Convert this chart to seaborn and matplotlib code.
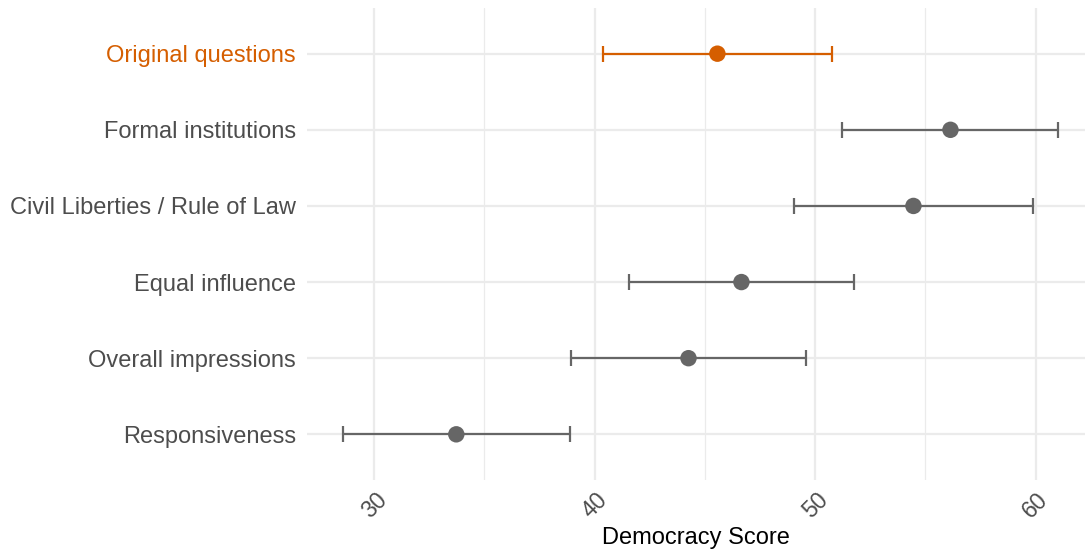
import matplotlib
matplotlib.use("Agg")
import matplotlib.pyplot as plt
import seaborn as sns
import pandas as pd

categories = ["Original questions", "Formal institutions", "Civil Liberties / Rule of Law",
              "Equal influence", "Overall impressions", "Responsiveness"]
estimate = [45.57, 56.14, 54.46, 46.66, 44.26, 33.73]
lower = [40.40, 51.24, 49.06, 41.55, 38.93, 28.57]
upper = [50.77, 61.00, 59.86, 51.78, 49.59, 38.90]
group = ["orig", "other", "other", "other", "other", "other"]
x_ticks = [30, 40, 50, 60]

ORANGE = "#D55E00"
GREY = "#666666"

df = pd.DataFrame({"cat": categories, "est": estimate, "lo": lower, "hi": upper, "grp": group})
df["pos"] = range(len(df))

sns.set_theme(style="white")
plt.rcParams["font.family"] = ["Liberation Sans", "DejaVu Sans"]

fig = plt.figure(figsize=(10.85, 5.54), dpi=100)
ax = fig.add_axes([307 / 1085, 1 - 480 / 554, 1 - 307 / 1085, (480 - 8) / 554])

palette = {"orig": ORANGE, "other": GREY}
for _, r in df.iterrows():
    ax.errorbar(r["est"], r["pos"], xerr=[[r["est"] - r["lo"]], [r["hi"] - r["est"]]],
                fmt="none", ecolor=palette[r["grp"]], elinewidth=1.6, capsize=5.5,
                capthick=1.6, zorder=3)
sns.scatterplot(data=df, x="est", y="pos", hue="grp", palette=palette, s=140,
                edgecolor="none", legend=False, ax=ax, zorder=4)

ax.set_xlim(26.96, 62.24)
ax.set_ylim(len(df) - 0.4, -0.6)
ax.set_yticks(df["pos"])
ax.set_yticklabels(categories)
ax.set_xticks(x_ticks)
ax.set_xticks([35, 45, 55], minor=True)
ax.set_xticklabels([str(t) for t in x_ticks])

ax.grid(True, which="major", axis="both", color="#EBEBEB", linewidth=1.6, zorder=0)
ax.grid(True, which="minor", axis="x", color="#EBEBEB", linewidth=0.9, zorder=0)
ax.set_axisbelow(True)
for s in ax.spines.values():
    s.set_visible(False)

ax.tick_params(axis="both", which="both", length=0)
ax.tick_params(axis="y", labelsize=17, labelcolor="#4D4D4D", pad=8)
ax.tick_params(axis="x", labelsize=16.5, labelcolor="#4D4D4D", pad=6)
for lbl in ax.get_xticklabels():
    lbl.set_rotation(45)
    lbl.set_ha("center")
    lbl.set_va("top")
for lbl, g in zip(ax.get_yticklabels(), group):
    if g == "orig":
        lbl.set_color(ORANGE)

ax.set_xlabel("Democracy Score", fontsize=17, color="black", labelpad=3)
ax.set_ylabel("")

fig.savefig("out.png", dpi=100)
